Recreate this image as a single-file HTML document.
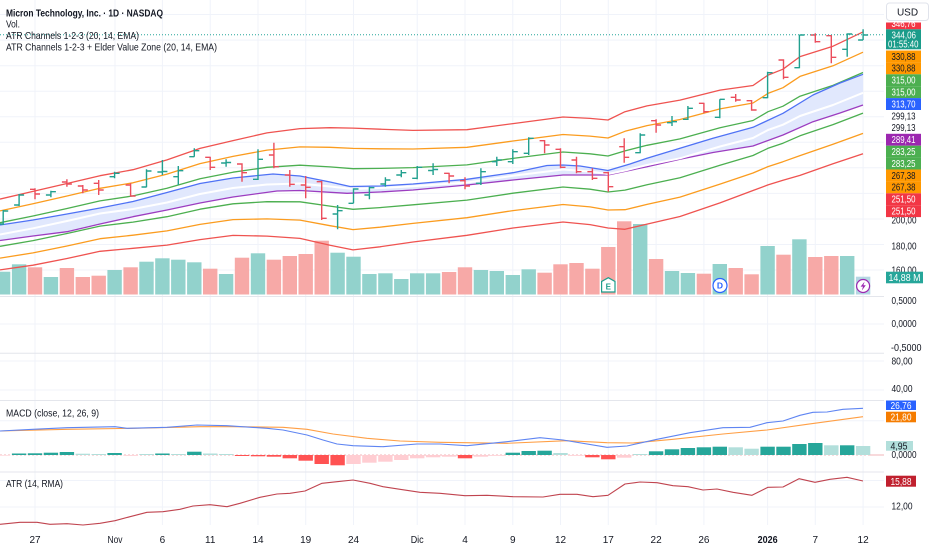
<!DOCTYPE html>
<html><head><meta charset="utf-8"><style>
html,body{margin:0;padding:0;background:#fff;}
svg{display:block;font-family:"Liberation Sans",sans-serif;}
</style></head><body>
<svg width="932" height="550" viewBox="0 0 932 550" xmlns="http://www.w3.org/2000/svg">
<defs><clipPath id="pm"><rect x="0" y="0" width="884" height="296"/></clipPath>
<clipPath id="pa"><rect x="0" y="0" width="884" height="550"/></clipPath></defs>
<rect width="932" height="550" fill="#fff"/>
<g stroke="#f0f3fa" stroke-width="1">
<path d="M35,0V525M115,0V525M162.4,0V525M210.2,0V525M258,0V525M305.7,0V525M353.5,0V525M417.2,0V525M465,0V525M512.8,0V525M560.5,0V525M608.3,0V525M656.1,0V525M703.9,0V525M767.6,0V525M815.3,0V525M863.1,0V525"/>
<path d="M0,14.5H884M0,40.1H884M0,65.7H884M0,91.2H884M0,116.8H884M0,142.3H884M0,167.8H884M0,193.4H884M0,219H884M0,244.5H884M0,270H884M0,324H884M0,361H884M0,390H884M0,420.7H884M0,480.5H884M0,507H884"/>
</g>
<g stroke="#e4e6ec" stroke-width="1">
<path d="M0,296.5H932M0,353.3H932M0,400.5H932M0,472H932"/>
</g>
<g clip-path="url(#pm)">
<g fill="#92d2cc">
<rect x="-4.1" y="271.7" width="14.4" height="22.8"/><rect x="11.9" y="264.3" width="14.4" height="30.2"/><rect x="43.7" y="277" width="14.4" height="17.5"/><rect x="107.4" y="270" width="14.4" height="24.5"/><rect x="139.3" y="261.7" width="14.4" height="32.8"/><rect x="155.2" y="258.3" width="14.4" height="36.2"/><rect x="171.1" y="259.7" width="14.4" height="34.8"/><rect x="187.1" y="262.3" width="14.4" height="32.2"/><rect x="218.9" y="274" width="14.4" height="20.5"/><rect x="250.8" y="253.3" width="14.4" height="41.2"/><rect x="330.4" y="252.7" width="14.4" height="41.8"/><rect x="346.3" y="256.7" width="14.4" height="37.8"/><rect x="362.2" y="274" width="14.4" height="20.5"/><rect x="378.2" y="273.3" width="14.4" height="21.2"/><rect x="394.1" y="279" width="14.4" height="15.5"/><rect x="410" y="273.3" width="14.4" height="21.2"/><rect x="425.9" y="273.3" width="14.4" height="21.2"/><rect x="473.7" y="270" width="14.4" height="24.5"/><rect x="489.6" y="271" width="14.4" height="23.5"/><rect x="505.6" y="275" width="14.4" height="19.5"/><rect x="521.5" y="269.3" width="14.4" height="25.2"/><rect x="633" y="224" width="14.4" height="70.5"/><rect x="664.8" y="271" width="14.4" height="23.5"/><rect x="680.7" y="273" width="14.4" height="21.5"/><rect x="712.6" y="264" width="14.4" height="30.5"/><rect x="760.4" y="246" width="14.4" height="48.5"/><rect x="792.2" y="239.3" width="14.4" height="55.2"/><rect x="840" y="256" width="14.4" height="38.5"/>
</g>
<g fill="#f7a9a7">
<rect x="27.8" y="267.3" width="14.4" height="27.2"/><rect x="59.7" y="268" width="14.4" height="26.5"/><rect x="75.6" y="277" width="14.4" height="17.5"/><rect x="91.5" y="275.7" width="14.4" height="18.8"/><rect x="123.4" y="267.3" width="14.4" height="27.2"/><rect x="203" y="268.7" width="14.4" height="25.8"/><rect x="234.8" y="257.7" width="14.4" height="36.8"/><rect x="266.7" y="259.7" width="14.4" height="34.8"/><rect x="282.6" y="256" width="14.4" height="38.5"/><rect x="298.5" y="254" width="14.4" height="40.5"/><rect x="314.5" y="240.7" width="14.4" height="53.8"/><rect x="441.9" y="272" width="14.4" height="22.5"/><rect x="457.8" y="267.3" width="14.4" height="27.2"/><rect x="537.4" y="272.7" width="14.4" height="21.8"/><rect x="553.3" y="264.3" width="14.4" height="30.2"/><rect x="569.3" y="263" width="14.4" height="31.5"/><rect x="585.2" y="268.7" width="14.4" height="25.8"/><rect x="601.1" y="247" width="14.4" height="47.5"/><rect x="617" y="221.3" width="14.4" height="73.2"/><rect x="648.9" y="259" width="14.4" height="35.5"/><rect x="696.7" y="273.7" width="14.4" height="20.8"/><rect x="728.5" y="268" width="14.4" height="26.5"/><rect x="744.4" y="274.3" width="14.4" height="20.2"/><rect x="776.3" y="254.7" width="14.4" height="39.8"/><rect x="808.1" y="257" width="14.4" height="37.5"/><rect x="824.1" y="256" width="14.4" height="38.5"/>
</g>
<rect x="855.9" y="276.7" width="14.4" height="17.8" fill="#b5d6e3"/>
<polygon fill="#e1e8fd" points="0,225 33,220 67,214 100,208 133,201.5 167,192.5 200,183.5 233,178 273,174 300,176 330,182 350,186.5 380,186 413,184 467,179.3 513,172.7 547,165.5 563,165 580,166 608,170.5 630,164 647,158.3 680,148.3 713,138.3 753,127.3 783,113.3 813,95 840,83 863,74.3 863,105 840,113 813,121.7 783,135 753,146 713,152.5 680,159.3 647,166.7 608,175 563,175 513,180 467,185 413,190 380,192 347,193.3 300,190.5 277,191 233,197 200,203 167,210 133,216.7 100,224 67,231.7 33,236 0,240.5"/>
<g fill="none" stroke-width="1.3" stroke-linejoin="round">
<polyline stroke="#ef5350" points="0,199.1 33,191.4 67,183.5 100,175.7 133,169.7 167,159.9 200,148.4 233,140.6 267,132.9 300,128.6 330,127.7 353,128.1 380,129.2 413,130.4 467,129.7 513,123.6 563,117 590,118.4 608,120 625,111.7 647,105.9 680,100.1 720,90.1 753,85.5 768,75.1 783,69.2 800,56.6 833,46.2 863,31.9"/>
<polyline stroke="#fb9c1f" points="0,210.9 33,203.7 67,196 100,188.3 133,182.8 167,174.1 200,163.6 233,156.4 267,150.1 300,146.9 330,147.3 353,148.4 380,148.8 413,149 467,147.3 513,141 563,134.5 590,136.1 608,138 625,131.3 647,125.6 680,119.5 720,108.9 753,103 768,93.4 783,87.7 800,76.4 833,65.8 863,52.2"/>
<polyline stroke="#4caf50" points="0,222.7 33,216 67,208.5 100,200.9 133,195.9 167,188.3 200,178.8 233,172.2 267,167.3 300,165.2 330,166.9 353,168.7 380,168.4 413,167.6 467,164.9 513,158.4 563,152 590,153.8 608,156 625,150.9 647,145.3 680,138.9 720,127.7 753,120.5 768,111.7 783,106.2 800,96.2 833,85.4 863,72.5"/>
<polyline stroke="#4caf50" points="0,246.3 33,240.6 67,233.5 100,226.1 133,222.1 167,216.7 200,209.2 233,203.8 267,201.7 300,201.8 330,206.1 353,209.3 380,207.6 413,204.8 467,200.1 513,193.2 563,187 590,189.2 608,192 625,190.1 647,184.7 680,177.7 720,165.3 753,155.5 768,148.3 783,143.2 800,135.8 833,124.6 863,113.1"/>
<polyline stroke="#fb9c1f" points="0,258.1 33,252.9 67,246 100,238.7 133,235.2 167,230.9 200,224.4 233,219.6 267,218.9 300,220.1 330,225.7 353,229.6 380,227.2 413,223.4 467,217.7 513,210.6 563,204.5 590,206.9 608,210 625,209.7 647,204.4 680,197.1 720,184.1 753,173 768,166.6 783,161.7 800,155.6 833,144.2 863,133.4"/>
<polyline stroke="#ef5350" points="0,269.9 33,265.2 67,258.5 100,251.3 133,248.3 167,245.1 200,239.6 233,235.4 267,236.1 300,238.4 330,245.3 353,249.9 380,246.8 413,242 467,235.3 513,228 563,222 590,224.6 608,228 625,229.3 647,224.1 680,216.5 720,202.9 753,190.5 768,184.9 783,180.2 800,175.4 833,163.8 863,153.7"/>
<polyline stroke="#4f72f5" points="0,225 33,220 67,214 100,208 133,201.5 167,192.5 200,183.5 233,178 273,174 300,176 330,182 350,186.5 380,186 413,184 467,179.3 513,172.7 547,165.5 563,165 580,166 608,170.5 630,164 647,158.3 680,148.3 713,138.3 753,127.3 783,113.3 813,95 840,83 863,74.3"/>
<polyline stroke="#9c3dc0" points="0,240.5 33,236 67,231.7 100,224 133,216.7 167,210 200,203 233,197 277,191 300,190.5 347,193.3 380,192 413,190 467,185 513,180 563,175 608,175 647,166.7 680,159.3 713,152.5 753,146 783,135 813,121.7 840,113 863,105"/>
<polyline stroke="#ffffff" stroke-width="2" points="0,234.5 33,228.3 67,221 100,213.5 133,209 167,202.5 200,194 233,188 267,184.5 300,183.5 330,186.5 353,189 380,188 413,186.2 467,182.5 513,175.8 563,169.5 590,171.5 608,174 625,170.5 647,165 680,158.3 720,146.5 753,138 768,130 783,124.7 800,116 833,105 863,92.8"/>
</g>
<path fill="none" stroke="#22a08f" stroke-width="1.4" d="M3.2,210V225M-1.8,224H3.2M3.2,211H8.2M19.1,194V206M14.1,205H19.1M19.1,195H24.1M50.9,190.7V197.3M45.9,195H50.9M50.9,191.7H55.9M114.6,171.7V178.3M109.6,176.7H114.6M114.6,173.3H119.6M146.5,169.3V187.3M141.5,187H146.5M146.5,171H151.5M162.4,160V175M157.4,172H162.4M162.4,171.5H167.4M178.3,166V185M173.3,176.7H178.3M178.3,170.7H183.3M194.3,148.3V156.7M189.3,156.7H194.3M194.3,150.7H199.3M226.1,159.3V166.7M221.1,163H226.1M226.1,162.5H231.1M258,149.3V180M253,179.3H258M258,159.3H263M337.6,205V229.3M332.6,214H337.6M337.6,210.7H342.6M353.5,188.3V203.3M348.5,203.3H353.5M353.5,189H358.5M369.4,186.7V199.3M364.4,195H369.4M369.4,187.7H374.4M385.4,177.3V186.7M380.4,184H385.4M385.4,180H390.4M401.3,170V177.3M396.3,175H401.3M401.3,172.7H406.3M417.2,166V179.3M412.2,178.3H417.2M417.2,167.3H422.2M433.1,163.3V175M428.1,170.5H433.1M433.1,169.5H438.1M480.9,168.3V185M475.9,183.3H480.9M480.9,171.7H485.9M496.8,156.7V166M491.8,161.7H496.8M496.8,160H501.8M512.8,149.3V164M507.8,161.7H512.8M512.8,151.7H517.8M528.7,137.3V155M523.7,153.3H528.7M528.7,138.3H533.7M640.2,133.3V153.3M635.2,152.7H640.2M640.2,135H645.2M672,116V126M667,122.7H672M672,121.7H677M687.9,106V120M682.9,119.3H687.9M687.9,108.3H692.9M719.8,99.3V118.3M714.8,117.3H719.8M719.8,99.3H724.8M767.6,71.7V98.3M762.6,97.7H767.6M767.6,72.7H772.6M799.4,35V68.3M794.4,67.7H799.4M799.4,35H804.4M847.2,33.3V56.7M842.2,49.3H847.2M847.2,34H852.2M863.1,29.3V40M858.1,40H863.1M863.1,35H868.1"/>
<path fill="none" stroke="#eb4d5c" stroke-width="1.4" d="M35,188.3V199.3M30,189.3H35M35,194H40M66.9,179.3V186.7M61.9,182H66.9M66.9,184H71.9M82.8,185V193.3M77.8,186H82.8M82.8,190H87.8M98.7,180V195M93.7,183.3H98.7M98.7,190H103.7M130.6,183.3V196.7M125.6,185H130.6M130.6,196H135.6M210.2,156.7V170M205.2,157.3H210.2M210.2,167.3H215.2M242,163.3V181.7M237,164H242M242,172.7H247M273.9,142.7V168.3M268.9,155H273.9M273.9,166.7H278.9M289.8,170V186.7M284.8,175H289.8M289.8,184.3H294.8M305.7,176V198.3M300.7,185H305.7M305.7,187.3H310.7M321.7,180.7V220M316.7,181.7H321.7M321.7,218.3H326.7M449.1,172.7V183.3M444.1,173.3H449.1M449.1,176H454.1M465,177.3V189.3M460,180.7H465M465,186H470M544.6,140V153.3M539.6,140.7H544.6M544.6,145H549.6M560.5,148.3V168.3M555.5,149.3H560.5M560.5,167.3H565.5M576.5,156.7V173.3M571.5,160H576.5M576.5,171.7H581.5M592.4,168.3V180M587.4,171.7H592.4M592.4,178.3H597.4M608.3,171.7V191.7M603.3,172.7H608.3M608.3,186.7H613.3M624.2,138.3V162.7M619.2,146.7H624.2M624.2,157.3H629.2M656.1,119.3V132.7M651.1,120.7H656.1M656.1,125H661.1M703.9,102.7V113.3M698.9,103.3H703.9M703.9,111.7H708.9M735.7,94V101.7M730.7,97.3H735.7M735.7,100H740.7M751.6,100V110.7M746.6,100.7H751.6M751.6,110H756.6M783.5,59.3V79.3M778.5,60H783.5M783.5,77.3H788.5M815.3,33.3V42.7M810.3,35H815.3M815.3,41.7H820.3M831.3,35V63.3M826.3,35.7H831.3M831.3,57.3H836.3"/>
<line x1="0" y1="34.7" x2="884" y2="34.7" stroke="#26a69a" stroke-width="1" stroke-dasharray="1,2"/>
<polygon points="608.3,277.7 615,281.5 615,292 601.6,292 601.6,281.5" fill="#fff" stroke="#1e9e8c" stroke-width="1.2"/>
<text x="608.3" y="289.6" font-size="8" font-weight="bold" fill="#1e9e8c" text-anchor="middle">E</text>
<circle cx="720" cy="285.5" r="7" fill="#fff" stroke="#2962ff" stroke-width="1.2"/>
<text x="720" y="288.6" font-size="8.5" font-weight="bold" fill="#2962ff" text-anchor="middle">D</text>
<circle cx="863.1" cy="286" r="6.5" fill="#fff" stroke="#9c27b0" stroke-width="1.2"/>
<polygon points="864.6,281.6 860.6,286.6 863,286.6 861.8,290.6 865.8,285.3 863.4,285.3" fill="#9c27b0"/>
</g>
<g clip-path="url(#pa)">
<line x1="0" y1="455" x2="884" y2="455" stroke="#f0b4ba" stroke-width="1" stroke-dasharray="2,2"/>
<g fill="#26a69a">
<rect x="11.9" y="453.5" width="14.4" height="1.5"/><rect x="27.8" y="453.3" width="14.4" height="1.7"/><rect x="43.7" y="452.7" width="14.4" height="2.3"/><rect x="59.7" y="452" width="14.4" height="3"/><rect x="107.4" y="453" width="14.4" height="2"/><rect x="155.2" y="453.5" width="14.4" height="1.5"/><rect x="187.1" y="451.7" width="14.4" height="3.3"/><rect x="505.6" y="452.7" width="14.4" height="2.3"/><rect x="521.5" y="451" width="14.4" height="4"/><rect x="537.4" y="450.7" width="14.4" height="4.3"/><rect x="648.9" y="451.3" width="14.4" height="3.7"/><rect x="664.8" y="449.3" width="14.4" height="5.7"/><rect x="680.7" y="448" width="14.4" height="7"/><rect x="696.7" y="447.3" width="14.4" height="7.7"/><rect x="712.6" y="446.7" width="14.4" height="8.3"/><rect x="760.4" y="446.7" width="14.4" height="8.3"/><rect x="776.3" y="446.7" width="14.4" height="8.3"/><rect x="792.2" y="444" width="14.4" height="11"/><rect x="808.1" y="443" width="14.4" height="12"/><rect x="840" y="445.3" width="14.4" height="9.7"/>
</g>
<g fill="#b2dfdb">
<rect x="75.6" y="453.7" width="14.4" height="1.3"/><rect x="91.5" y="454" width="14.4" height="1"/><rect x="139.3" y="454" width="14.4" height="1"/><rect x="171.1" y="454" width="14.4" height="1"/><rect x="203" y="453.5" width="14.4" height="1.5"/><rect x="218.9" y="454" width="14.4" height="1"/><rect x="553.3" y="453" width="14.4" height="2"/><rect x="633" y="454" width="14.4" height="1"/><rect x="728.5" y="447.3" width="14.4" height="7.7"/><rect x="744.4" y="448.7" width="14.4" height="6.3"/><rect x="824.1" y="445.3" width="14.4" height="9.7"/><rect x="855.9" y="446" width="14.4" height="9"/>
</g>
<g fill="#ff5252">
<rect x="234.8" y="455" width="14.4" height="1"/><rect x="250.8" y="455" width="14.4" height="1.3"/><rect x="266.7" y="455" width="14.4" height="1.7"/><rect x="282.6" y="455" width="14.4" height="3.3"/><rect x="298.5" y="455" width="14.4" height="5.7"/><rect x="314.5" y="455" width="14.4" height="9"/><rect x="330.4" y="455" width="14.4" height="10.3"/><rect x="457.8" y="455" width="14.4" height="3.3"/><rect x="585.2" y="455" width="14.4" height="2.3"/><rect x="601.1" y="455" width="14.4" height="4.3"/>
</g>
<g fill="#ffcdd2">
<rect x="-4.1" y="455" width="14.4" height="0.6"/><rect x="123.4" y="455" width="14.4" height="0.8"/><rect x="346.3" y="455" width="14.4" height="9"/><rect x="362.2" y="455" width="14.4" height="7.7"/><rect x="378.2" y="455" width="14.4" height="6.7"/><rect x="394.1" y="455" width="14.4" height="5"/><rect x="410" y="455" width="14.4" height="3.3"/><rect x="425.9" y="455" width="14.4" height="2.3"/><rect x="441.9" y="455" width="14.4" height="1.7"/><rect x="473.7" y="455" width="14.4" height="1.7"/><rect x="489.6" y="455" width="14.4" height="0.8"/><rect x="569.3" y="455" width="14.4" height="0.8"/><rect x="617" y="455" width="14.4" height="2.7"/>
</g>
<g fill="none" stroke-width="1.1" stroke-linejoin="round">
<polyline stroke="#ff9f45" points="0,431 67,429.3 133,428.3 200,426.7 233,426.7 283,427.3 307,429.3 333,434 367,438.3 400,441 440,442.3 507,443.3 567,440.7 607,442.7 633,443 673,439.3 723,434 767,430 807,424.3 863,416.7"/>
<polyline stroke="#5f85f2" points="0,431 33,429.3 67,427.7 115,426.7 127,428.3 167,427.3 197,425 227,425.7 267,428.3 283,430 307,435 323,440 337,444 353,445.7 383,446.7 417,444 440,444 467,445.7 507,441.7 540,437.7 563,440 607,447.3 627,446 657,439.3 690,432.7 723,427.7 750,427.3 767,422.7 783,421 800,415.3 813,412.3 827,412 843,409.3 863,408.3"/>
<polyline stroke="#c0444f" points="0,524.3 20,522.3 37,522.3 50,524.3 67,523.7 83,525 100,523.3 115,520.7 130,516.7 147,512.3 163,511.7 180,509.3 193,506 210,504.7 227,506.7 240,503.3 260,497.3 277,494 290,493.3 305,491 322,483.3 337,481.7 353,480 370,483.3 383,486.7 400,489.3 420,492.3 440,493.3 465,495.7 487,495.3 513,496.7 543,497 560,494.3 577,494.3 593,496.7 608,495.3 625,484 640,482 657,482.7 673,485.7 688,486.7 703,490 717,489 733,492.3 752,495.3 768,487.3 783,487 799,478.7 815,482.3 830,479.3 847,477.3 863,481"/>
</g>
</g>
<g fill="#131722">
<text x="6" y="16.5" font-size="10.5" font-weight="bold" textLength="157" lengthAdjust="spacingAndGlyphs">Micron Technology, Inc. · 1D · NASDAQ</text>
<text x="6" y="27.5" font-size="10.5" textLength="14" lengthAdjust="spacingAndGlyphs">Vol.</text>
<text x="6" y="39" font-size="10.5" textLength="133" lengthAdjust="spacingAndGlyphs">ATR Channels 1-2-3 (20, 14, EMA)</text>
<text x="6" y="50.7" font-size="10.5" textLength="211" lengthAdjust="spacingAndGlyphs">ATR Channels 1-2-3 + Elder Value Zone (20, 14, EMA)</text>
<text x="6" y="416.5" font-size="10.5" textLength="93" lengthAdjust="spacingAndGlyphs">MACD (close, 12, 26, 9)</text>
<text x="6" y="487" font-size="10.5" textLength="57" lengthAdjust="spacingAndGlyphs">ATR (14, RMA)</text>
</g>
<g fill="#131722" font-size="10" text-anchor="middle">
<text x="35" y="542.8">27</text>
<text x="115" y="542.8" textLength="15" lengthAdjust="spacingAndGlyphs">Nov</text>
<text x="162.4" y="542.8">6</text>
<text x="210.2" y="542.8">11</text>
<text x="258" y="542.8">14</text>
<text x="305.7" y="542.8">19</text>
<text x="353.5" y="542.8">24</text>
<text x="417.2" y="542.8" textLength="13" lengthAdjust="spacingAndGlyphs">Dic</text>
<text x="465" y="542.8">4</text>
<text x="512.8" y="542.8">9</text>
<text x="560.5" y="542.8">12</text>
<text x="608.3" y="542.8">17</text>
<text x="656.1" y="542.8">22</text>
<text x="703.9" y="542.8">26</text>
<text x="767.6" y="542.8" font-weight="bold" textLength="20" lengthAdjust="spacingAndGlyphs">2026</text>
<text x="815.3" y="542.8">7</text>
<text x="863.1" y="542.8">12</text>
</g>
<rect x="884" y="0" width="48" height="525" fill="#fff"/>
<g fill="#131722" font-size="10">
<text x="891.5" y="223.7" textLength="25" lengthAdjust="spacingAndGlyphs">200,00</text>
<text x="891.5" y="249.5" textLength="25" lengthAdjust="spacingAndGlyphs">180,00</text>
<text x="891.5" y="273.7" textLength="25" lengthAdjust="spacingAndGlyphs">160,00</text>
<text x="891.5" y="304.2" textLength="25" lengthAdjust="spacingAndGlyphs">0,5000</text>
<text x="891.5" y="327.2" textLength="25" lengthAdjust="spacingAndGlyphs">0,0000</text>
<text x="891" y="351" textLength="30.5" lengthAdjust="spacingAndGlyphs">-0,5000</text>
<text x="891.5" y="364.5" textLength="21" lengthAdjust="spacingAndGlyphs">80,00</text>
<text x="891.5" y="392.2" textLength="21" lengthAdjust="spacingAndGlyphs">40,00</text>
<text x="891.5" y="457.9" textLength="25" lengthAdjust="spacingAndGlyphs">0,0000</text>
<text x="891.5" y="509.7" textLength="21" lengthAdjust="spacingAndGlyphs">12,00</text>
</g>
<line x1="870" y1="455" x2="886" y2="455" stroke="#f0b4ba" stroke-dasharray="2,2"/>
<rect x="886" y="17" width="35" height="12.3" fill="#f23645"/>
<text x="891.5" y="26.8" font-size="10" fill="#fff" textLength="24" lengthAdjust="spacingAndGlyphs">346,76</text>
<rect x="884" y="0" width="48" height="22.5" fill="#fff"/>
<rect x="886.5" y="3" width="42" height="17.5" rx="3" fill="#fff" stroke="#e0e3eb"/>
<text x="907.5" y="15.3" font-size="10" fill="#131722" text-anchor="middle">USD</text>
<rect x="886" y="29.3" width="35" height="20" fill="#1a9c8a"/>
<g fill="#fff" font-size="10">
<text x="891.5" y="38.4" textLength="24.5" lengthAdjust="spacingAndGlyphs">344,06</text>
<text x="888" y="47.7" textLength="30.5" lengthAdjust="spacingAndGlyphs">01:55:40</text>
</g>
<rect x="886" y="50.5" width="35" height="11.9" fill="#ff9800"/>
<rect x="886" y="62.4" width="35" height="11.9" fill="#ff9800"/>
<rect x="886" y="74.3" width="35" height="11.9" fill="#4caf50"/>
<rect x="886" y="86.2" width="35" height="11.9" fill="#4caf50"/>
<rect x="886" y="98.1" width="35" height="11.9" fill="#2962ff"/>
<rect x="886" y="133.8" width="35" height="11.9" fill="#9c27b0"/>
<rect x="886" y="145.7" width="35" height="11.9" fill="#4caf50"/>
<rect x="886" y="157.6" width="35" height="11.9" fill="#4caf50"/>
<rect x="886" y="169.5" width="35" height="11.9" fill="#ff9800"/>
<rect x="886" y="181.4" width="35" height="11.9" fill="#ff9800"/>
<rect x="886" y="193.3" width="35" height="11.9" fill="#f23645"/>
<rect x="886" y="205.2" width="35" height="11.9" fill="#f23645"/>
<g font-size="10">
<text x="891.5" y="59.8" fill="#131722" textLength="24" lengthAdjust="spacingAndGlyphs">330,88</text>
<text x="891.5" y="71.7" fill="#131722" textLength="24" lengthAdjust="spacingAndGlyphs">330,88</text>
<text x="891.5" y="83.6" fill="#fff" textLength="24" lengthAdjust="spacingAndGlyphs">315,00</text>
<text x="891.5" y="95.5" fill="#fff" textLength="24" lengthAdjust="spacingAndGlyphs">315,00</text>
<text x="891.5" y="107.4" fill="#fff" textLength="24" lengthAdjust="spacingAndGlyphs">313,70</text>
<text x="891.5" y="119.3" fill="#131722" textLength="24" lengthAdjust="spacingAndGlyphs">299,13</text>
<text x="891.5" y="131.2" fill="#131722" textLength="24" lengthAdjust="spacingAndGlyphs">299,13</text>
<text x="891.5" y="143.1" fill="#fff" textLength="24" lengthAdjust="spacingAndGlyphs">289,41</text>
<text x="891.5" y="155" fill="#fff" textLength="24" lengthAdjust="spacingAndGlyphs">283,25</text>
<text x="891.5" y="166.9" fill="#fff" textLength="24" lengthAdjust="spacingAndGlyphs">283,25</text>
<text x="891.5" y="178.8" fill="#131722" textLength="24" lengthAdjust="spacingAndGlyphs">267,38</text>
<text x="891.5" y="190.7" fill="#131722" textLength="24" lengthAdjust="spacingAndGlyphs">267,38</text>
<text x="891.5" y="202.6" fill="#fff" textLength="24" lengthAdjust="spacingAndGlyphs">251,50</text>
<text x="891.5" y="214.5" fill="#fff" textLength="24" lengthAdjust="spacingAndGlyphs">251,50</text>
</g>
<rect x="886" y="271.7" width="37" height="11.6" fill="#26a69a"/>
<text x="888.5" y="281" font-size="10" fill="#fff" textLength="32" lengthAdjust="spacingAndGlyphs">14,88 M</text>
<rect x="886" y="400.5" width="30" height="9.5" fill="#2962ff"/>
<text x="890.5" y="409" font-size="10" fill="#fff" textLength="21" lengthAdjust="spacingAndGlyphs">26,76</text>
<rect x="886" y="411.7" width="30" height="10.6" fill="#f57c00"/>
<text x="890.5" y="420.7" font-size="10" fill="#fff" textLength="21" lengthAdjust="spacingAndGlyphs">21,80</text>
<rect x="886" y="441" width="27" height="9.7" fill="#b2dfdb"/>
<text x="890.5" y="449.4" font-size="10" fill="#131722" textLength="17" lengthAdjust="spacingAndGlyphs">4,95</text>
<rect x="886" y="475.7" width="30" height="11" fill="#c0202e"/>
<text x="890.5" y="484.8" font-size="10" fill="#fff" textLength="21" lengthAdjust="spacingAndGlyphs">15,88</text>
</svg>
</body></html>
